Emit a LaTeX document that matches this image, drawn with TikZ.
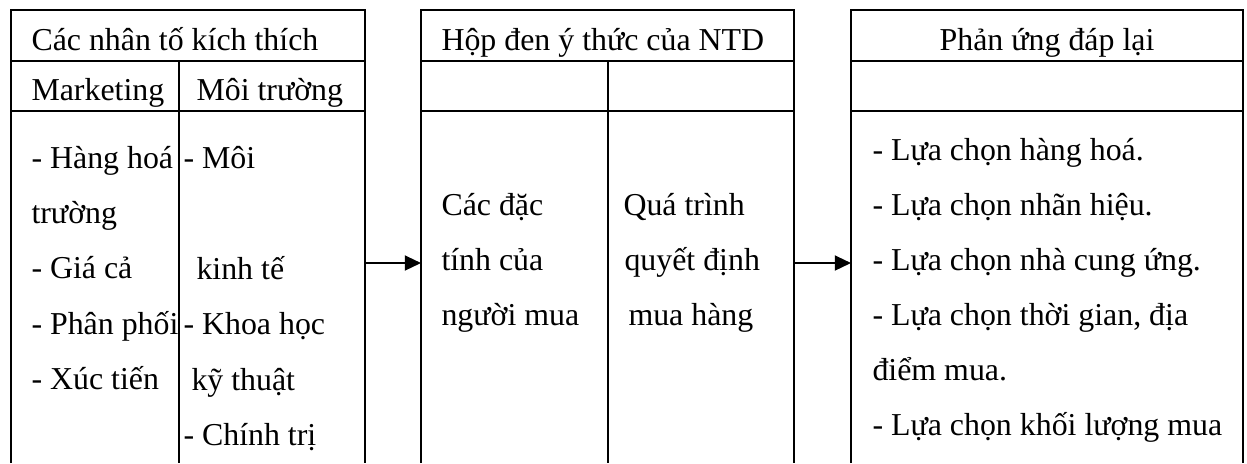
\documentclass[tikz,border=0pt]{standalone}
\usepackage{fontspec}
\setmainfont{Liberation Serif}
\usetikzlibrary{arrows.meta, positioning}
\tikzset{
    frame/.style={
        draw=black,
        line width=0.8pt
    },
    flow/.style={
        draw=black,
        line width=0.8pt,
        -{Triangle[length=6.5pt,width=6pt]}
    },
    cell/.style={
        anchor=base west,
        inner sep=0pt,
        font=\fontsize{12.75pt}{15pt}\selectfont
    },
    headcell/.style={
        cell,
        anchor=base
    }
}

\begin{document}
\begin{tikzpicture}[x=0.4pt, y=-0.4pt]
\useasboundingbox (0,0) rectangle (1247,463);

% Column frames (open at the bottom)
\draw[frame] (11,463) |- (365,10) -- (365,463);
\draw[frame] (11,61) -- (365,61);
\draw[frame] (11,111) -- (365,111);
\draw[frame] (179,61) -- (179,463);

\draw[frame] (421,463) |- (794,10) -- (794,463);
\draw[frame] (421,61) -- (794,61);
\draw[frame] (421,111) -- (794,111);
\draw[frame] (608,61) -- (608,463);

\draw[frame] (851,463) |- (1243,10) -- (1243,463);
\draw[frame] (851,61) -- (1243,61);
\draw[frame] (851,111) -- (1243,111);

% Headers
\node[cell] (stim) at (31,50) {Các nhân tố kích thích};
\node[cell] (mkt) at (31,100) {Marketing};
\node[cell] (env) at (196,100) {Môi trường};
\node[cell] (blackbox) at (441,50) {Hộp đen ý thức của NTD};
\node[headcell] (resp) at (1047,50) {Phản ứng đáp lại};

% Stimuli
\foreach \t [count=\i] in {- Hàng hoá, trường, - Giá cả, - Phân phối, - Xúc tiến}
    \node[cell] (mk\i) at (31,{168+55.4*(\i-1)}) {\t};
\node[cell] (env1) at (183,168) {- Môi};
\node[cell] (env3) at (196,279) {kinh tế};
\node[cell] (env4) at (183,334) {- Khoa học};
\node[cell] (env5) at (191,390) {kỹ thuật};
\node[cell] (env6) at (183,445) {- Chính trị};

% Black box
\node[cell] (buyer1) at (441,215) {Các đặc};
\node[cell] (buyer2) at (441,270) {tính của};
\node[cell] (buyer3) at (441,325) {người mua};
\node[cell] (dec1) at (623,215) {Quá trình};
\node[cell] (dec2) at (624,270) {quyết định};
\node[cell] (dec3) at (628,325) {mua hàng};

% Responses
\foreach \t [count=\i] in {- Lựa chọn hàng hoá., - Lựa chọn nhãn hiệu., - Lựa chọn nhà cung ứng., {- Lựa chọn thời gian, địa}, điểm mua., - Lựa chọn khối lượng mua}
    \node[cell] (re\i) at (872,{160+55*(\i-1)}) {\t};

% Arrows
\coordinate (out1) at (365,263);
\coordinate (in1) at (421,263);
\coordinate (out2) at (794,263);
\coordinate (in2) at (851,263);
\draw[flow] (out1) -- (in1);
\draw[flow] (out2) -- (in2);

\end{tikzpicture}
\end{document}
